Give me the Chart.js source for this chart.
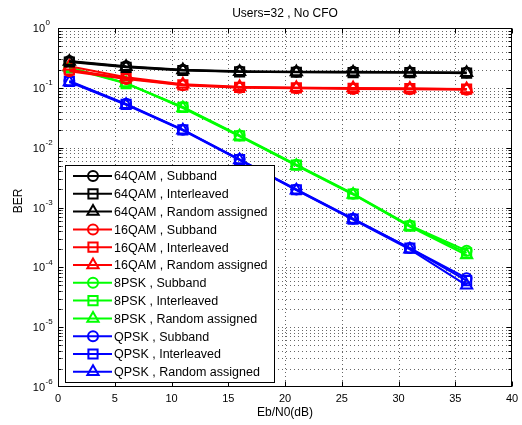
<!DOCTYPE html>
<html>
<head>
<meta charset="utf-8">
<script src="https://cdn.jsdelivr.net/npm/chart.js@4.4.0/dist/chart.umd.min.js"></script>
<style>
  body { margin: 0; background: #fff; }
  #wrap { width: 522px; height: 425px; }
</style>
</head>
<body>
<div id="wrap"><canvas id="ber" width="522" height="425"></canvas></div>
<script>
// Eb/N0 points (dB) and axis ticks
const ebn0 = [1, 6, 11, 16, 21, 26, 31, 36];
const xTicks = [0, 5, 10, 15, 20, 25, 30, 35, 40];
const yExps = [0, -1, -2, -3, -4, -5, -6];

// BER per modulation / subcarrier assignment
const qam64Subband     = [0.28, 0.23, 0.20, 0.19, 0.185, 0.185, 0.182, 0.18];
const qam64Interleaved = [0.27, 0.22, 0.195, 0.185, 0.182, 0.18, 0.18, 0.176];
const qam64Random      = [0.275, 0.225, 0.198, 0.186, 0.184, 0.182, 0.18, 0.178];
const qam16Subband     = [0.19, 0.14, 0.11, 0.10, 0.098, 0.096, 0.095, 0.093];
const qam16Interleaved = [0.20, 0.145, 0.112, 0.102, 0.10, 0.098, 0.097, 0.095];
const qam16Random      = [0.23, 0.15, 0.115, 0.104, 0.10, 0.099, 0.097, 0.096];
const psk8Subband      = [0.22, 0.12, 0.048, 0.016, 0.0052, 0.0017, 0.0005, 0.00019];
const psk8Interleaved  = [0.215, 0.118, 0.047, 0.0158, 0.0051, 0.00168, 0.00049, 0.000175];
const psk8Random       = [0.22, 0.12, 0.046, 0.0155, 0.005, 0.00165, 0.00048, 0.00016];
const qpskSubband      = [0.13, 0.054, 0.020, 0.0064, 0.0020, 0.00065, 0.00021, 0.000066];
const qpskInterleaved  = [0.128, 0.053, 0.0198, 0.0063, 0.00198, 0.00064, 0.00021, 0.00006];
const qpskRandom       = [0.125, 0.052, 0.0195, 0.0062, 0.00195, 0.00063, 0.0002, 0.00005];

const mods = ['64QAM', '16QAM', '8PSK', 'QPSK'];
const schemes = ['Subband', 'Interleaved', 'Random assigned'];
const colors = ['#000000', '#ff0000', '#00ff00', '#0000ff'];
const markers = ['circle', 'rect', 'triangle'];
const radii = { circle: 5, rect: 6.5, triangle: 6.5 };
const series = [
  [qam64Subband, qam64Interleaved, qam64Random],
  [qam16Subband, qam16Interleaved, qam16Random],
  [psk8Subband, psk8Interleaved, psk8Random],
  [qpskSubband, qpskInterleaved, qpskRandom]
];

const datasets = [];
mods.forEach((m, i) => {
  schemes.forEach((s, j) => {
    datasets.push({
      label: m + ' , ' + s,
      data: ebn0.map((x, k) => ({ x: x, y: series[i][j][k] })),
      borderColor: colors[i],
      backgroundColor: 'rgba(0,0,0,0)',
      borderWidth: 2,
      pointStyle: markers[j],
      pointRadius: radii[markers[j]],
      pointBorderWidth: 2,
      pointBorderColor: colors[i],
      pointBackgroundColor: 'rgba(0,0,0,0)',
      tension: 0,
      fill: false
    });
  });
});

const FONT = '"Liberation Sans", Arial, Helvetica, sans-serif';

function marker(ctx, style, x, y, r) {
  ctx.beginPath();
  if (style === 'circle') {
    ctx.arc(x, y, r, 0, Math.PI * 2);
  } else if (style === 'rect') {
    const h = r * Math.SQRT1_2;
    ctx.rect(x - h, y - h, 2 * h, 2 * h);
  } else {
    ctx.moveTo(x, y - r);
    ctx.lineTo(x + r * Math.sin(2 * Math.PI / 3), y + r * 0.5);
    ctx.lineTo(x - r * Math.sin(2 * Math.PI / 3), y + r * 0.5);
    ctx.closePath();
  }
  ctx.stroke();
}

// matlab-style axes: dotted grid, inner ticks, box, labels, legend
const matlabAxes = {
  id: 'matlabAxes',
  beforeDatasetsDraw(chart) {
    const { ctx, chartArea: a, scales } = chart;
    ctx.save();
    ctx.strokeStyle = '#666';
    ctx.lineWidth = 1;
    ctx.setLineDash([1, 3]);
    xTicks.slice(1, -1).forEach(t => {
      const px = Math.round(scales.x.getPixelForValue(t)) + 0.5;
      ctx.beginPath(); ctx.moveTo(px, a.top); ctx.lineTo(px, a.bottom); ctx.stroke();
    });
    yExps.forEach(e => {
      for (let d = 1; d <= 9; d++) {
        const v = d * Math.pow(10, e - 1);
        if (v < 1e-6 * 1.0001 || v > 1) continue;
        const py = Math.round(scales.y.getPixelForValue(v)) + 0.5;
        ctx.beginPath(); ctx.moveTo(a.left, py); ctx.lineTo(a.right, py); ctx.stroke();
      }
    });
    ctx.restore();
  },
  afterDatasetsDraw(chart) {
    const { ctx, chartArea: a, scales } = chart;
    ctx.save();
    ctx.setLineDash([]);
    ctx.strokeStyle = '#000';
    ctx.lineWidth = 1;
    const L = Math.round(a.left) + 0.5, R = Math.round(a.right) - 0.5;
    const T = Math.round(a.top) + 0.5, B = Math.round(a.bottom) - 0.5;
    ctx.strokeRect(L, T, R - L, B - T);

    // ticks
    ctx.beginPath();
    xTicks.forEach(t => {
      const px = Math.round(scales.x.getPixelForValue(t)) + 0.5;
      ctx.moveTo(px, B); ctx.lineTo(px, B - 5);
      ctx.moveTo(px, T); ctx.lineTo(px, T + 5);
    });
    yExps.forEach(e => {
      for (let d = 1; d <= 9; d++) {
        const v = d * Math.pow(10, e - 1);
        if (v < 1e-6 * 1.0001 || v > 1) continue;
        const len = d === 1 ? 5 : 3;
        const py = Math.round(scales.y.getPixelForValue(v)) + 0.5;
        ctx.moveTo(L, py); ctx.lineTo(L + len, py);
        ctx.moveTo(R, py); ctx.lineTo(R - len, py);
      }
    });
    ctx.stroke();

    // tick labels
    ctx.fillStyle = '#000';
    ctx.font = '11px ' + FONT;
    ctx.textAlign = 'center';
    ctx.textBaseline = 'middle';
    xTicks.forEach(t => {
      ctx.fillText(String(t), scales.x.getPixelForValue(t), a.bottom + 12);
    });
    yExps.forEach(e => {
      const py = scales.y.getPixelForValue(Math.pow(10, e));
      ctx.font = '11px ' + FONT;
      ctx.textAlign = 'right';
      ctx.fillText('10', 45, py + 1);
      ctx.font = '8px ' + FONT;
      ctx.textAlign = 'left';
      ctx.fillText(String(e), 45.5, py - 5);
    });

    // title and axis labels
    const cx = (a.left + a.right) / 2;
    ctx.font = '12px ' + FONT;
    ctx.textAlign = 'center';
    ctx.fillText('Users=32 , No CFO', cx, 14);
    ctx.fillText('Eb/N0(dB)', cx, a.bottom + 26);
    ctx.save();
    ctx.translate(19, 201);
    ctx.rotate(-Math.PI / 2);
    ctx.fillText('BER', 0, 0);
    ctx.restore();

    // legend
    const bx = 65.5, by = 165.5, bw = 209, bh = 217;
    ctx.fillStyle = '#fff';
    ctx.fillRect(bx, by, bw, bh);
    ctx.strokeStyle = '#000';
    ctx.lineWidth = 1;
    ctx.strokeRect(bx, by, bw, bh);
    ctx.font = '12.5px ' + FONT;
    ctx.textAlign = 'left';
    chart.data.datasets.forEach((ds, i) => {
      const y = 176 + i * 17.8;
      ctx.strokeStyle = ds.borderColor;
      ctx.lineWidth = 2;
      ctx.beginPath(); ctx.moveTo(73, y); ctx.lineTo(112, y); ctx.stroke();
      marker(ctx, ds.pointStyle, 93, y, ds.pointRadius);
      ctx.fillStyle = '#000';
      ctx.fillText(ds.label, 114, y + 1);
    });
    ctx.restore();
  }
};

new Chart(document.getElementById('ber'), {
  type: 'line',
  data: { datasets: datasets },
  options: {
    responsive: false,
    animation: false,
    layout: { padding: { left: 58, right: 10, top: 28, bottom: 38 } },
    plugins: { legend: { display: false }, tooltip: { enabled: false } },
    scales: {
      x: { type: 'linear', min: 0, max: 40, display: false },
      y: { type: 'logarithmic', min: 1e-6, max: 1, display: false }
    }
  },
  plugins: [matlabAxes]
});
</script>
</body>
</html>
